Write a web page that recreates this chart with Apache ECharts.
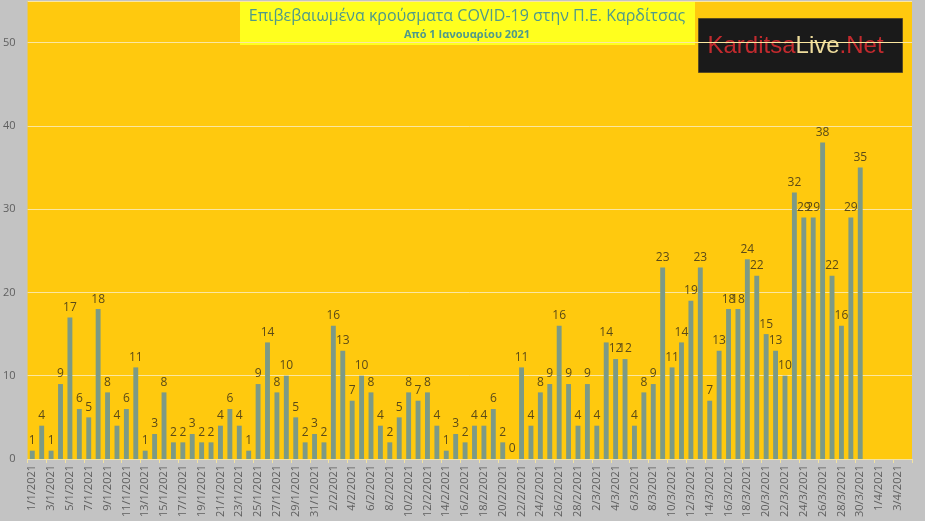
<!DOCTYPE html>
<html lang="el">
<head>
    <meta charset="utf-8"/>
    <title>Επιβεβαιωμένα κρούσματα COVID-19 στην Π.Ε. Καρδίτσας</title>
    <script src="https://cdn.jsdelivr.net/npm/echarts@6/dist/echarts.min.js"></script>
    <style>
        html, body { margin: 0; padding: 0; background: #c3c3c3; }
        #chart { width: 925px; height: 521px; }
    </style>
</head>
<body>
<div id="chart"></div>
<script>
    // days 1/1/2021 .. 4/4/2021
    const months = [['1', 31], ['2', 28], ['3', 31], ['4', 4]];
    const days = [];
    months.forEach(function (m) {
        for (let d = 1; d <= m[1]; d++) days.push(d + '/' + m[0] + '/2021');
    });

    const janCases = [1, 4, 1, 9, 17, 6, 5, 18, 8, 4, 6, 11, 1, 3, 8, 2, 2, 3, 2, 2, 4, 6, 4, 1, 9, 14, 8, 10, 5, 2, 3];
    const febCases = [2, 16, 13, 7, 10, 8, 4, 2, 5, 8, 7, 8, 4, 1, 3, 2, 4, 4, 6, 2, 0, 11, 4, 8, 9, 16, 9, 4];
    const marCases = [9, 4, 14, 12, 12, 4, 8, 9, 23, 11, 14, 19, 23, 7, 13, 18, 18, 24, 22, 15, 13, 10, 32, 29, 29, 38, 22, 16, 29, 35];
    const cases = janCases.concat(febCases, marCases);

    const yTicks = [0, 10, 20, 30, 40, 50];

    const chart = echarts.init(document.getElementById('chart'));
    const option = {
        backgroundColor: '#c3c3c3',
        animation: false,
        grid: { left: 24, right: 13, top: 1, bottom: 62, show: true, backgroundColor: '#ffc90e', borderWidth: 0 },
        xAxis: {
            type: 'category',
            data: days,
            axisLine: { lineStyle: { color: '#f3e3a0', width: 1 } },
            axisTick: { show: true, interval: 1, length: 4, lineStyle: { color: '#f3e3a0' } },
            axisLabel: {
                interval: 1, rotate: 90, color: '#5f5f5f', fontSize: 11,
                fontFamily: 'Open Sans', margin: 6
            }
        },
        yAxis: {
            type: 'value',
            min: 0, max: 55, interval: 10,
            axisLine: { show: false },
            axisTick: { show: false },
            splitLine: { lineStyle: { color: '#fbe7a0', width: 1 } },
            axisLabel: {
                color: '#5f5f5f', fontSize: 11, fontFamily: 'Open Sans', margin: 12,
                formatter: function (v) { return yTicks.indexOf(v) >= 0 ? v : ''; }
            }
        },
        series: [{
            type: 'bar',
            data: cases,
            barWidth: '52%',
            itemStyle: { color: '#7c9a86' },
            label: {
                show: true, position: 'top', distance: 4,
                color: '#5b4a18', fontSize: 12, fontFamily: 'Open Sans'
            }
        }],
        graphic: [
            {
                type: 'group', left: 240, top: 2,
                children: [
                    { type: 'rect', shape: { x: 0, y: 0, width: 455, height: 43 }, style: { fill: '#ffff1e' } },
                    {
                        type: 'text', x: 227, y: 6,
                        style: {
                            text: 'Επιβεβαιωμένα κρούσματα COVID-19 στην Π.Ε. Καρδίτσας',
                            fill: '#4f9a8a', font: '16px "Open Sans"', textAlign: 'center'
                        }
                    },
                    {
                        type: 'text', x: 227, y: 27,
                        style: {
                            text: 'Από 1 Ιανουαρίου 2021',
                            fill: '#4f9a8a', font: 'bold 11px "Open Sans"', textAlign: 'center'
                        }
                    }
                ]
            },
            {
                type: 'group', left: 698, top: 18,
                children: [
                    { type: 'rect', shape: { x: 0, y: 0, width: 204, height: 54 }, style: { fill: '#1a1a1a', stroke: '#5a4a20', lineWidth: 1 } },
                    {
                        type: 'text', x: 9, y: 16,
                        style: {
                            rich: {
                                r: { fill: '#c22a2e', font: '24px "Liberation Sans"' },
                                y: { fill: '#eedc9c', font: '24px "Liberation Sans"' }
                            },
                            text: '{r|Karditsa}{y|Live}{r|.Net}'
                        }
                    }
                ]
            }
        ]
    };
    chart.setOption(option);
</script>
</body>
</html>
